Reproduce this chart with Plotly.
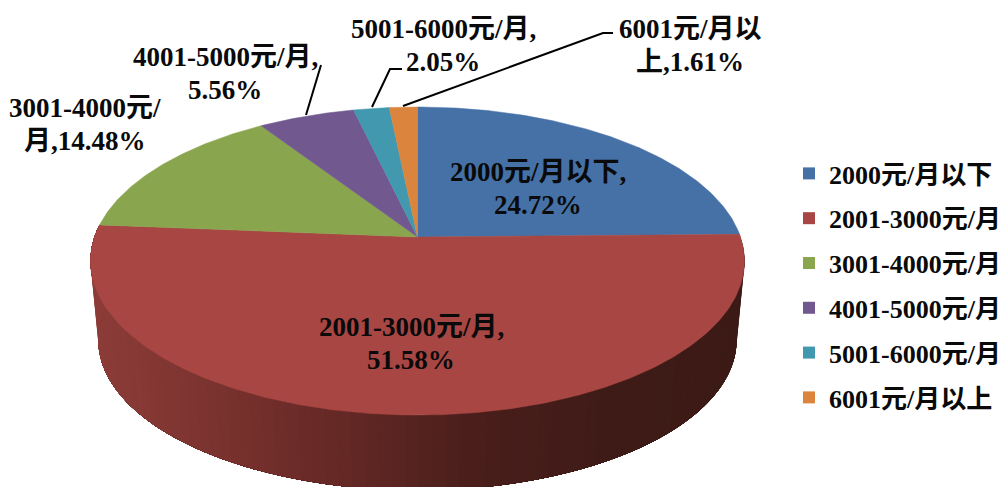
import numpy as np
import plotly.graph_objects as go

categories = ["2000元/月以下", "2001-3000元/月", "3001-4000元/月",
              "4001-5000元/月", "5001-6000元/月", "6001元/月以上"]
shares = [24.72, 51.58, 14.48, 5.56, 2.05, 1.61]
label_lines = [["2000元/月以下,", "24.72%"], ["2001-3000元/月,", "51.58%"],
               ["3001-4000元/", "月,14.48%"], ["4001-5000元/月,", "5.56%"],
               ["5001-6000元/月,", "2.05%"], ["6001元/月以", "上,1.61%"]]
colors = ["#4571A6", "#A84643", "#89A54E", "#71588F", "#4198AF", "#DB843D"]

FONT = "'Liberation Serif', 'Noto Sans CJK SC', serif"
CX, APEX_Y, A, B, K = 417.5, 237.0, 323.0, 150.3, 0.156
ELL_Y, DROP, SHRINK = 261.0, 79.0, 0.976
PAGE_MARGIN = 8  # the page body offsets the figure by this many pixels


def top_face(theta_deg):
    t = np.radians(theta_deg)
    u, v = np.sin(t), np.cos(t)
    d = 1 + K * v
    return CX + A * u / d, APEX_Y - B * v / d


def bottom_face(theta_deg):
    x, y = top_face(theta_deg)
    return CX + SHRINK * (x - CX), ELL_Y + DROP + SHRINK * (y - ELL_Y)


def shade(x):
    stops_x = [95, 200, 350, 480, 620, 745]
    r = np.interp(x, stops_x, [140, 125, 100, 74, 62, 60])
    g = np.interp(x, stops_x, [60, 52, 40, 30, 27, 26])
    b = np.interp(x, stops_x, [56, 48, 37, 27, 23, 22])
    return f"rgb({r:.0f},{g:.0f},{b:.0f})"


fig = go.Figure()

# Side wall of the disc: painted from the right round to the left, each band
# running on to the slice's end so that the next band overlaps it with no seam.
red_start = shares[0] * 3.6
red_end = (shares[0] + shares[1]) * 3.6
for t0 in np.linspace(red_start, red_end, 91)[:-1]:
    th = np.linspace(t0, red_end, 60)
    xt, yt = top_face(th)
    xb, yb = bottom_face(th[::-1])
    col = shade(float(top_face(t0)[0]))
    fig.add_trace(go.Scatter(x=np.r_[xt, xb], y=np.r_[yt, yb], mode="none",
                             fill="toself", fillcolor=col,
                             hoverinfo="skip", showlegend=False))

# Top face slices.
start = 0.0
for name, share, color in zip(categories, shares, colors):
    end = start + share * 3.6
    th = np.linspace(start, end, max(int(share * 6), 8))
    xs, ys = top_face(th)
    fig.add_trace(go.Scatter(x=np.r_[CX, xs, CX], y=np.r_[APEX_Y, ys, APEX_Y],
                             mode="lines", fill="toself", fillcolor=color,
                             line=dict(color=color, width=0.5),
                             name=name, text=f"{name}: {share}%", hoverinfo="text",
                             showlegend=False))
    start = end

# Native legend entries.
for name, color in zip(categories, colors):
    fig.add_trace(go.Scatter(x=[None], y=[None], mode="markers", name=name,
                             legendgroup=name,
                             marker=dict(symbol="square", size=14, color=color)))

# Data labels.
label_pos = [(538, 172), (411, 327), (85, 108), (225, 57), (443, 29), (690, 29)]
for lines, (lx, ly) in zip(label_lines, label_pos):
    for i, line in enumerate(lines):
        fig.add_annotation(x=lx, y=ly + i * 32.5, text=line, showarrow=False,
                           xanchor="center", yanchor="middle",
                           font=dict(family=FONT, size=27, color="#0a0a0a", weight="bold"))

# Leader lines.
leaders = [[(321, 65), (306, 115)],
           [(402, 69), (390, 69), (372, 107)],
           [(613, 33), (603, 33), (403, 106)]]
for pts in leaders:
    fig.add_trace(go.Scatter(x=[p[0] for p in pts], y=[p[1] for p in pts], mode="lines",
                             line=dict(color="#000000", width=2),
                             hoverinfo="skip", showlegend=False))

fig.update_layout(
    width=1008 - PAGE_MARGIN, height=487 - PAGE_MARGIN,
    margin=dict(l=0, r=0, t=0, b=0, autoexpand=False),
    paper_bgcolor="white", plot_bgcolor="white",
    xaxis=dict(range=[PAGE_MARGIN, 1008], visible=False, fixedrange=True),
    yaxis=dict(range=[487, PAGE_MARGIN], visible=False, fixedrange=True),
    legend=dict(x=0.781, y=0.4207, xanchor="left", yanchor="middle", tracegroupgap=8,
                bgcolor="rgba(0,0,0,0)", itemsizing="constant", itemclick=False,
                font=dict(family=FONT, size=26, color="#0a0a0a", weight="bold")),
)

fig.write_html("out.html", config=dict(displayModeBar=False))
